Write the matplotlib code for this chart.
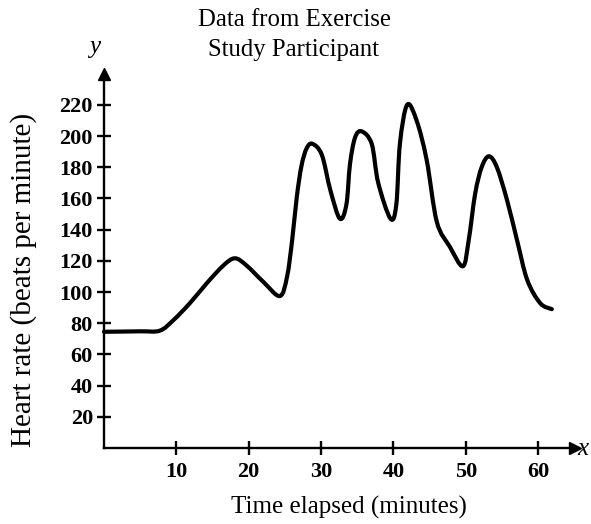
import matplotlib
matplotlib.use("Agg")
import matplotlib.pyplot as plt
from matplotlib.path import Path
from matplotlib.patches import PathPatch

# Data (minutes, beats per minute)
time_min = [0, 5.0, 7.7, 9.6, 11.9, 14.2, 16.5, 18.1, 19.7, 22.0, 24.3,
            25.3, 26.0, 26.65, 27.3, 28.0, 28.8, 30.1, 31.3, 32.6, 33.5, 34.0, 34.7,
            35.6, 37.0, 37.9, 39.6, 40.4, 40.9, 41.9, 43.2, 44.6, 46.0, 47.8, 49.6,
            50.4, 51.3, 52.2, 53.2, 54.3, 55.7, 57.1, 58.5, 60.3, 61.9]
heart_rate = [74.5, 74.8, 75.2, 82, 93, 105.6, 117, 121.6, 117, 106.6, 97.4,
              109.8, 133, 161, 181, 192, 195, 188, 165, 147, 156, 182, 199,
              203, 195, 170, 147, 156, 195, 220, 210, 184.6, 145, 129, 116.5,
              133, 163, 180, 187, 180, 159, 133, 107.7, 92.8, 89]
x_ticks = [10, 20, 30, 40, 50, 60]
y_ticks = [20, 40, 60, 80, 100, 120, 140, 160, 180, 200, 220]

W, H = 591, 524
fig = plt.figure(figsize=(W / 100, H / 100), dpi=100)
left, right, bottom, top = 104, 575, 448, 73.6
ax = fig.add_axes([left / W, 1 - bottom / H, (right - left) / W, (bottom - top) / H])

serif = ["Liberation Serif", "DejaVu Serif"]

ax.set_xlim(0, 65.1)
ax.set_ylim(0, 240)

# smooth curve through the read points (Catmull-Rom -> cubic Bezier segments)
pts = list(zip(time_min, heart_rate))
verts = [pts[0]]
codes = [Path.MOVETO]
n = len(pts)
for i in range(n - 1):
    p0 = pts[i - 1] if i > 0 else pts[i]
    p1 = pts[i]
    p2 = pts[i + 1]
    p3 = pts[i + 2] if i + 2 < n else pts[i + 1]
    c1 = (p1[0] + (p2[0] - p0[0]) / 6, p1[1] + (p2[1] - p0[1]) / 6)
    c2 = (p2[0] - (p3[0] - p1[0]) / 6, p2[1] - (p3[1] - p1[1]) / 6)
    verts += [c1, c2, p2]
    codes += [Path.CURVE4] * 3
ax.add_patch(PathPatch(Path(verts, codes), facecolor="none", edgecolor="black",
                       lw=3.0, capstyle="round", joinstyle="round", clip_on=False))

for s in ("top", "right"):
    ax.spines[s].set_visible(False)
for s in ("left", "bottom"):
    ax.spines[s].set_linewidth(1.7)

ax.set_xticks(x_ticks)
ax.set_yticks(y_ticks)
ax.tick_params(direction="inout", length=10, width=1.7)
ax.tick_params(axis="x", pad=5)
ax.tick_params(axis="y", pad=3)
for lab in ax.get_xticklabels() + ax.get_yticklabels():
    lab.set_fontfamily(serif)
    lab.set_fontsize(16)
    lab.set_fontweight("bold")

# arrowheads
ax.plot(1, 0, ">k", ms=8, transform=ax.transAxes, clip_on=False)
ax.plot(0, 1, "^k", ms=8, transform=ax.transAxes, clip_on=False)

fig.text(583 / W, 1 - 449 / H, "x", family=serif, style="italic", fontsize=18,
         ha="center", va="center")
fig.text(95 / W, 1 - 47 / H, "y", family=serif, style="italic", fontsize=18,
         ha="center", va="center")

fig.text(294 / W, 1 - 20 / H, "Data from Exercise", family=serif, fontsize=17.8,
         ha="center", va="center")
fig.text(294 / W, 1 - 50 / H, "Study Participant", family=serif, fontsize=17.8,
         ha="center", va="center")
fig.text(349 / W, 1 - 507 / H, "Time elapsed (minutes)", family=serif, fontsize=18,
         ha="center", va="center")
fig.text(24 / W, 1 - 280 / H, "Heart rate (beats per minute)", family=serif, fontsize=21,
         ha="center", va="center", rotation=90)

fig.savefig("out.png", dpi=100)
